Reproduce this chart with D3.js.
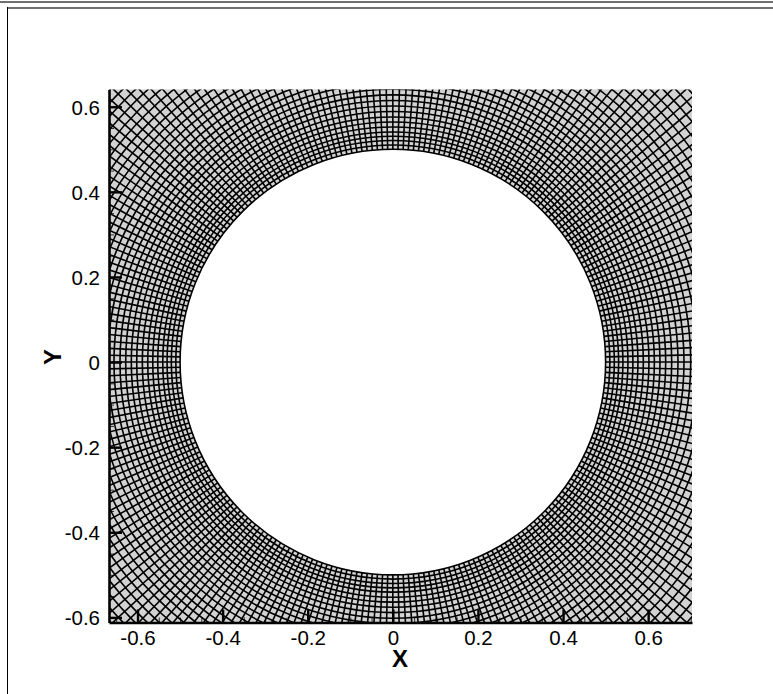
<!DOCTYPE html>
<html>
<head>
<meta charset="utf-8">
<script src="https://d3js.org/d3.v7.min.js"></script>
<style>
html, body { margin: 0; padding: 0; background: #fff; }
svg { display: block; }
text { font-family: "Liberation Sans", Arial, sans-serif; fill: #000; }
</style>
</head>
<body>
<div id="chart"></div>
<script>
// tick positions
var x_major = [-0.6, -0.4, -0.2, 0, 0.2, 0.4, 0.6];
var y_major = [-0.6, -0.4, -0.2, 0, 0.2, 0.4, 0.6];
var x_labels = ["-0.6", "-0.4", "-0.2", "0", "0.2", "0.4", "0.6"];
var y_labels = ["-0.6", "-0.4", "-0.2", "0", "0.2", "0.4", "0.6"];
var x_minor = [-0.65, -0.55, -0.5, -0.45, -0.35, -0.3, -0.25, -0.15, -0.1, -0.05, 0.05, 0.1, 0.15, 0.25, 0.3, 0.35, 0.45, 0.5, 0.55, 0.65, 0.7];
var y_minor = [-0.55, -0.5, -0.45, -0.35, -0.3, -0.25, -0.15, -0.1, -0.05, 0.05, 0.1, 0.15, 0.25, 0.3, 0.35, 0.45, 0.5, 0.55];

// mesh rings, radius read off along the +x axis and guessed out to the corners
var ring_radius = [0.5, 0.51, 0.5205, 0.5306, 0.5407, 0.5525, 0.5642, 0.576, 0.5887, 0.6019, 0.6146, 0.6278, 0.6412, 0.6553, 0.6701, 0.6842, 0.7,
	0.7165, 0.733, 0.7495, 0.767, 0.7845, 0.803, 0.822, 0.841, 0.861, 0.881, 0.902, 0.923, 0.945, 0.968];
var nb_spokes = 260; // counted around the inner circle

var width = 773;
var height = 694;

var x = d3.scaleLinear().domain([-0.667, 0.703]).range([109, 692]);
var y = d3.scaleLinear().domain([-0.612, 0.6405]).range([622.5, 89.5]);

var svg = d3.select("#chart").append("svg")
	.attr("width", width)
	.attr("height", height);

// page frame
svg.append("rect").attr("x", 0).attr("y", 1).attr("width", width).attr("height", 2).attr("fill", "#707070");
svg.append("rect").attr("x", 7).attr("y", 7).attr("width", width - 7).attr("height", 2).attr("fill", "#707070");
svg.append("rect").attr("x", 7).attr("y", 7).attr("width", 1).attr("height", height - 7).attr("fill", "#000");

svg.append("clipPath").attr("id", "plot_clip")
	.append("rect")
	.attr("x", x.range()[0])
	.attr("y", y.range()[1])
	.attr("width", x.range()[1] - x.range()[0])
	.attr("height", y.range()[0] - y.range()[1]);

var mesh = svg.append("g").attr("clip-path", "url(#plot_clip)");

var r_scale = d3.scaleLinear().domain([0, 1]).range([0, x(1) - x(0)]);
var r_min = ring_radius[0];
var r_max = ring_radius[ring_radius.length - 1];

// grey background of the mesh
mesh.append("path")
	.attr("transform", "translate(" + x(0) + "," + y(0) + ")")
	.attr("fill", "#d2d2d2")
	.attr("d", d3.arc()({
		innerRadius: r_scale(r_min),
		outerRadius: r_scale(r_max),
		startAngle: 0,
		endAngle: 2 * Math.PI
	}));

mesh.selectAll("line.spoke")
	.data(d3.range(nb_spokes))
	.enter().append("line")
	.attr("class", "spoke")
	.attr("x1", function(d) { return x(r_min * Math.cos(2 * Math.PI * d / nb_spokes)); })
	.attr("y1", function(d) { return y(r_min * Math.sin(2 * Math.PI * d / nb_spokes)); })
	.attr("x2", function(d) { return x(r_max * Math.cos(2 * Math.PI * d / nb_spokes)); })
	.attr("y2", function(d) { return y(r_max * Math.sin(2 * Math.PI * d / nb_spokes)); })
	.attr("stroke", "#000")
	.attr("stroke-width", 1.6);

mesh.selectAll("circle.ring")
	.data(ring_radius)
	.enter().append("circle")
	.attr("class", "ring")
	.attr("cx", x(0))
	.attr("cy", y(0))
	.attr("r", function(d) { return r_scale(d); })
	.attr("fill", "none")
	.attr("stroke", "#000")
	.attr("stroke-width", 1.6);

// minor ticks first so the axis lines sit on top
var x_minor_axis = d3.axisBottom(x).tickValues(x_minor).tickSize(-5).tickFormat("");
var y_minor_axis = d3.axisLeft(y).tickValues(y_minor).tickSize(-5).tickFormat("");

var g_x_minor = svg.append("g").attr("transform", "translate(0," + y.range()[0] + ")").call(x_minor_axis);
var g_y_minor = svg.append("g").attr("transform", "translate(" + x.range()[0] + ",0)").call(y_minor_axis);
g_x_minor.select(".domain").remove();
g_y_minor.select(".domain").remove();
svg.selectAll("g g.tick line").attr("stroke", "#000").attr("stroke-width", 0.8);

var x_axis = d3.axisBottom(x).tickValues(x_major).tickSizeInner(-13).tickSizeOuter(0).tickPadding(0)
	.tickFormat(function(d, i) { return x_labels[i]; });
var y_axis = d3.axisLeft(y).tickValues(y_major).tickSizeInner(-13).tickSizeOuter(0).tickPadding(0)
	.tickFormat(function(d, i) { return y_labels[i]; });

var g_x = svg.append("g").attr("transform", "translate(0," + y.range()[0] + ")").call(x_axis);
var g_y = svg.append("g").attr("transform", "translate(" + x.range()[0] + ",0)").call(y_axis);

g_x.select(".domain").attr("stroke", "#000").attr("stroke-width", 2.6);
g_y.select(".domain").attr("stroke", "#000").attr("stroke-width", 2.6);
g_x.selectAll(".tick line").attr("stroke", "#000").attr("stroke-width", 2.4);
g_y.selectAll(".tick line").attr("stroke", "#000").attr("stroke-width", 2.4);

g_x.selectAll(".tick text")
	.attr("y", 22.5)
	.attr("dy", 0)
	.style("font-size", "20.5px")
	.style("font-family", "'Liberation Sans', Arial, sans-serif");
g_y.selectAll(".tick text")
	.attr("x", -9)
	.attr("dy", "0.36em")
	.style("font-size", "20.5px")
	.style("font-family", "'Liberation Sans', Arial, sans-serif");

svg.append("text")
	.attr("x", 400)
	.attr("y", 667)
	.attr("text-anchor", "middle")
	.style("font-size", "24px")
	.style("font-weight", "bold")
	.text("X");

svg.append("text")
	.attr("transform", "translate(61,357) rotate(-90)")
	.attr("text-anchor", "middle")
	.style("font-size", "24px")
	.style("font-weight", "bold")
	.text("Y");
</script>
</body>
</html>
